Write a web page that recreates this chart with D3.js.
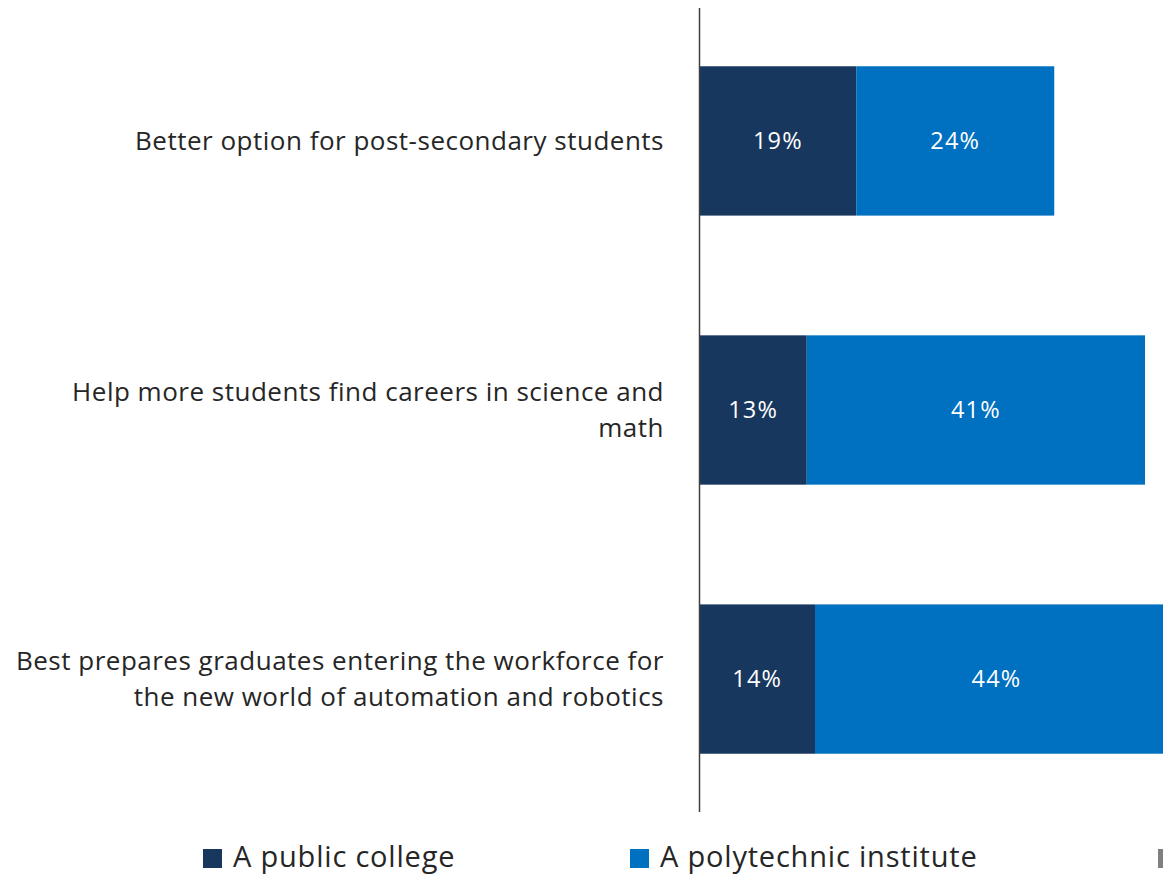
<!DOCTYPE html>
<html>
<head>
<meta charset="utf-8">
<script src="https://cdn.jsdelivr.net/npm/d3@7/dist/d3.min.js"></script>
<style>
  html, body { margin: 0; padding: 0; background: #ffffff; }
  svg { display: block; font-family: "Open Sans", Lato, sans-serif; }
</style>
</head>
<body>
<svg id="chart" width="1163" height="875"></svg>
<script>
// Statements rated, top to bottom (each label split into display lines)
const categories = [
  ["Better option for post-secondary students"],
  ["Help more students find careers in science and", "math"],
  ["Best prepares graduates entering the workforce for", "the new world of automation and robotics"]
];
const seriesNames = ["A public college", "A polytechnic institute"];
const publicCollege = [19, 13, 14];
const polytechnic = [24, 41, 44];
const seriesColors = ["#18375e", "#0070c0"];
const thirdSwatchColor = "#808080";

const svg = d3.select("#chart");

const rows = categories.map((c, i) => ({
  key: i, lines: c, values: [publicCollege[i], polytechnic[i]]
}));

const x = d3.scaleLinear().domain([0, 100]).range([699.5, 699.5 + 825]);
const y = d3.scaleBand().domain(rows.map(r => r.key)).range([-1, 821]).paddingInner(0.445).paddingOuter(0.25);

const stack = d3.stack().keys([0, 1]).value((d, k) => d.values[k]);
const layers = stack(rows);

const g = svg.append("g");

layers.forEach((layer, li) => {
  g.selectAll(null)
    .data(layer)
    .join("rect")
    .attr("x", d => x(d[0]))
    .attr("y", (d, i) => y(rows[i].key))
    .attr("width", d => x(d[1]) - x(d[0]))
    .attr("height", y.bandwidth())
    .attr("fill", seriesColors[li]);

  g.selectAll(null)
    .data(layer)
    .join("text")
    .attr("x", d => (x(d[0]) + x(d[1])) / 2)
    .attr("y", (d, i) => y(rows[i].key) + y.bandwidth() / 2)
    .attr("dy", "0.35em")
    .attr("text-anchor", "middle")
    .attr("fill", "#ffffff")
    .attr("font-size", 23.5)
    .attr("letter-spacing", 1.2)
    .text(d => (d[1] - d[0]) + "%");
});

// Vertical category axis line
g.append("line")
  .attr("x1", x(0)).attr("x2", x(0))
  .attr("y1", 8).attr("y2", 812)
  .attr("stroke", "#404040")
  .attr("stroke-width", 1.5);

// Category labels, right-aligned against the axis
const lineH = 36;
rows.forEach(r => {
  const cy = y(r.key) + y.bandwidth() / 2;
  const n = r.lines.length;
  const t = g.append("text")
    .attr("text-anchor", "end")
    .attr("fill", "#262626")
    .attr("font-size", 26)
    .attr("letter-spacing", 0.5);
  r.lines.forEach((ln, j) => {
    t.append("tspan")
      .attr("x", 664)
      .attr("y", cy + (j - (n - 1) / 2) * lineH)
      .attr("dy", "0.35em")
      .text(ln);
  });
});

// Legend
const legend = svg.append("g");
const legendItems = [
  { name: seriesNames[0], color: seriesColors[0], x: 203 },
  { name: seriesNames[1], color: seriesColors[1], x: 630 }
];
legendItems.forEach(it => {
  legend.append("rect")
    .attr("x", it.x).attr("y", 849)
    .attr("width", 19).attr("height", 19)
    .attr("fill", it.color);
  legend.append("text")
    .attr("x", it.x + 30).attr("y", 867)
    .attr("fill", "#262626")
    .attr("font-size", 29)
    .attr("letter-spacing", 0.8)
    .text(it.name);
});
legend.append("rect")
  .attr("x", 1158).attr("y", 849)
  .attr("width", 19).attr("height", 19)
  .attr("fill", thirdSwatchColor);
</script>
</body>
</html>
